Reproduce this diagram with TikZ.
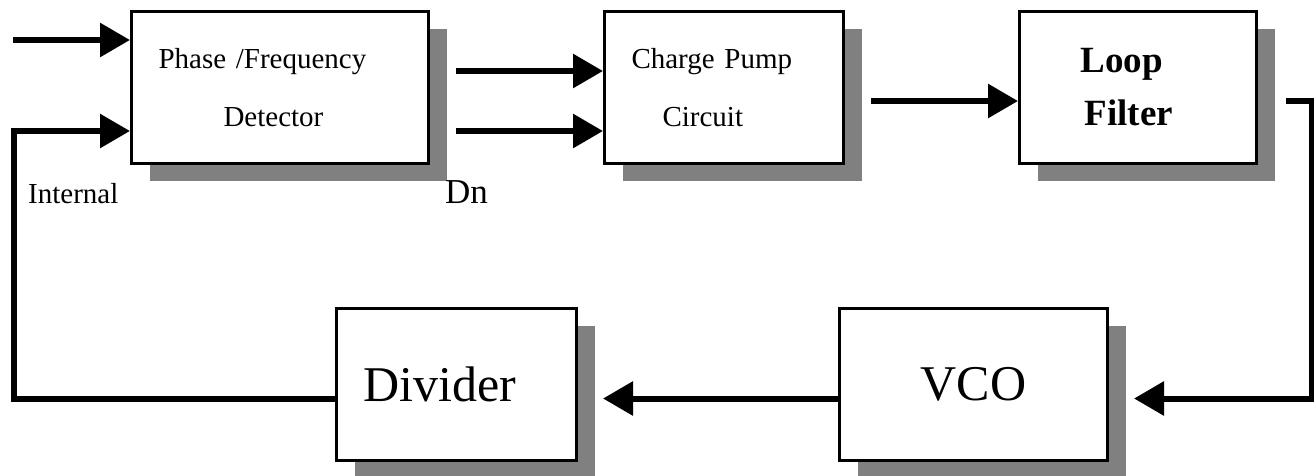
\documentclass[tikz,border=0pt]{standalone}
\usepackage{fontspec}
\setmainfont{Liberation Serif}
\usetikzlibrary{arrows.meta,positioning,shadows}
\definecolor{shadowgray}{HTML}{808080}

\begin{document}
\begin{tikzpicture}[x=1pt,y=-1pt,node distance=173pt,
  box/.style={draw,line width=3pt,fill=white,align=left,minimum height=152pt,inner xsep=27pt,inner ysep=0pt,
    drop shadow={shadow xshift=18pt,shadow yshift=-17pt,opacity=1,fill=shadowgray}},
  sig/.style={line width=6pt},
  arr/.style={sig,-{Triangle[length=30pt,width=33pt]}},
  lbl/.style={anchor=base west,inner sep=0pt}]
\useasboundingbox (0,0) rectangle (1314,475);
% upper row
\node[box,anchor=north west,text width=243pt,font=\fontsize{29}{58}\selectfont] (pfd) at (130,10) {Phase /Frequency\\\hspace*{65pt}Detector};
\node[box,right=of pfd,text width=185pt,font=\fontsize{29}{58}\selectfont] (cp) {Charge Pump\\\hspace*{31pt}Circuit};
\node[box,right=of cp,text width=183pt,font=\fontsize{37}{53}\selectfont\bfseries] (lf) {\hspace*{34pt}Loop\\\hspace*{38pt}Filter};
% lower row
\node[box,anchor=north west,text width=186pt,font=\fontsize{50}{60}\selectfont] (div) at (335,307) {Divider};
\node[box,right=260pt of div,text width=214pt,align=center,font=\fontsize{50}{60}\selectfont] (vco) {VCO};
% labels
\node[lbl,font=\fontsize{29}{34}\selectfont] (intl) at (28,203) {Internal};
\node[lbl,font=\fontsize{35}{40}\selectfont] (dn) at (445,203) {Dn};
% signals
\coordinate (in) at (13,40);
\coordinate (fb) at (14,131);
\draw[arr] (in) -- (in -| pfd.west);
\draw[arr] ([yshift=-14pt]div.west) -| (fb) -- (fb -| pfd.west);
\draw[arr] ([xshift=26pt,yshift=16.5pt]pfd.east) -- ([yshift=16.5pt]cp.west);
\draw[arr] ([xshift=26pt,yshift=-43.5pt]pfd.east) -- ([yshift=-43.5pt]cp.west);
\draw[arr] ([xshift=26pt,yshift=-13.5pt]cp.east) -- ([yshift=-13.5pt]lf.west);
\draw[arr] ([xshift=28pt,yshift=-13.5pt]lf.east) -- ++(26,0) |- ([xshift=25pt,yshift=-14pt]vco.east);
\draw[arr] ([yshift=-14pt]vco.west) -- ([xshift=25pt,yshift=-14pt]div.east);
\end{tikzpicture}
\end{document}
